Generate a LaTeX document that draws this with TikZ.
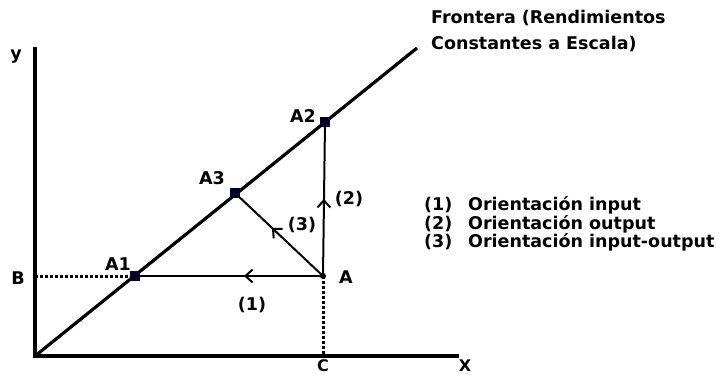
\documentclass[tikz,border=0pt]{standalone}
\usepackage{fontspec}
\setmainfont{DejaVu Sans}
\usetikzlibrary{arrows.meta, positioning, decorations.markings}

\begin{document}
\begin{tikzpicture}[x=1pt, y=-1pt,
  txt/.style={font=\bfseries\fontsize{17.5}{21}\selectfont, inner sep=1pt},
  axis/.style={line width=3.2pt},
  dots/.style={line width=3pt, dash pattern=on 2.8pt off 2.2pt},
  unit/.style={rectangle, fill=black!85!blue, minimum size=10pt, inner sep=0pt},
  midarrow/.style={line width=2pt, postaction={decorate},
    decoration={markings, mark=at position #1 with {\arrow{Straight Barb[length=7pt,width=13pt,line width=2pt]}}}}
]
\useasboundingbox (0,0) rectangle (720,375);

% axes and frontier
\coordinate (O) at (35,356);
\coordinate (ytop) at (35,47);
\coordinate (xend) at (459,356);
\coordinate (fend) at (417,48);
\draw [axis] (ytop) -- (O) -- (xend);
\draw [axis] (O) -- (fend);

% points
\coordinate (A) at (323,276);
\coordinate (Bp) at (35,276);
\coordinate (Cp) at (323,356);
\node (A1) [unit] at (135,276) {};
\node (A2) [unit] at (325,122) {};
\node (A3) [unit] at (235,193) {};

\draw [dots] (Bp) -- (A1.center);
\draw [dots] (A) -- (Cp);
\draw [midarrow=0.42] (A) -- (A1.center);
\draw [midarrow=0.5] (A) -- (A2.center);
\draw [midarrow=0.58] (A) -- (A3.center);
\fill (A) circle (3pt);
\node [unit] at (A1) {};
\node [unit] at (A2) {};
\node [unit] at (A3) {};

% labels
\node (ly) [txt] at (16,57) {y};
\node (lx) [txt, font=\bfseries\fontsize{16}{18}\selectfont] at (465,366) {X};
\node (lB) [txt] at (18,278) {B};
\node (lC) [txt, font=\bfseries\fontsize{16}{18}\selectfont] at (323,366) {C};
\node (lA) [txt] at (346,277) {A};
\node (lA1) [txt] at (118,264) {A1};
\node (lA2) [txt] at (303,116) {A2};
\node (lA3) [txt] at (212,178) {A3};
\node (l1) [txt] at (252,305) {(1)};
\node (l2) [txt] at (349,199) {(2)};
\node (l3) [txt] at (302,225) {(3)};

\node (front) [txt, anchor=west, align=left, font=\bfseries\fontsize{17.5}{26}\selectfont] at (430,31)
  {Frontera (Rendimientos\\Constantes a Escala)};

% legend
\node (n1) [txt, anchor=west] at (423,205) {(1)};
\node (n2) [txt, anchor=west] at (423,224) {(2)};
\node (n3) [txt, anchor=west] at (423,242) {(3)};
\node (t1) [txt, anchor=west] at (467,205) {Orientación input};
\node (t2) [txt, anchor=west] at (467,224) {Orientación output};
\node (t3) [txt, anchor=west] at (467,242) {Orientación input-output};
\end{tikzpicture}
\end{document}
